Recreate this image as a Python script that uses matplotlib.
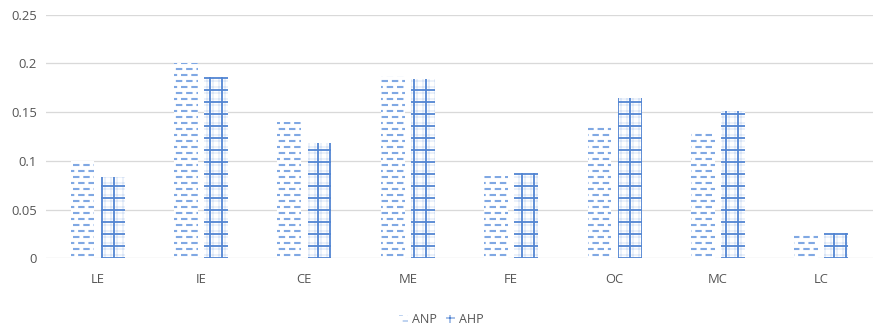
import warnings
import numpy as np
import matplotlib
matplotlib.use("Agg")
import matplotlib.pyplot as plt
import matplotlib.hatch as mhatch
from matplotlib.path import Path
from matplotlib.patches import Patch

warnings.filterwarnings("ignore")

categories = ["LE", "IE", "CE", "ME", "FE", "OC", "MC", "LC"]
anp = [0.100, 0.200, 0.140, 0.187, 0.084, 0.136, 0.130, 0.026]
ahp = [0.083, 0.186, 0.118, 0.184, 0.088, 0.164, 0.151, 0.026]
series_names = ["ANP", "AHP"]
yticks = [0, 0.05, 0.1, 0.15, 0.2, 0.25]
ytick_labels = ["0", "0.05", "0.1", "0.15", "0.2", "0.25"]


class DashRowsHatch(mhatch.HatchPatternBase):
    """Staggered rows of short dashes, selected with the '_' hatch code."""

    rows = 12
    dashes = 7
    dash_frac = 0.42

    def __init__(self, hatch, density):
        self.on = hatch.count("_") > 0
        self.segs = self._segments() if self.on else []
        self.num_vertices = 2 * len(self.segs)

    def _segments(self):
        segs = []
        period = 1.0 / self.dashes
        for r in range(self.rows):
            y = (r + 0.5) / self.rows
            shift = 0.5 * period if r % 2 else 0.0
            for j in range(self.dashes):
                x0 = j * period + shift + 0.2 * period
                x1 = x0 + self.dash_frac * period
                if x1 <= 1.0:
                    segs.append((x0, x1, y))
                elif x0 >= 1.0:
                    segs.append((x0 - 1.0, x1 - 1.0, y))
                else:
                    segs.append((x0, 1.0, y))
                    segs.append((0.0, x1 - 1.0, y))
        return segs

    def set_vertices_and_codes(self, vertices, codes):
        for i, (x0, x1, y) in enumerate(self.segs):
            vertices[2 * i] = (x0, y)
            vertices[2 * i + 1] = (x1, y)
            codes[2 * i] = Path.MOVETO
            codes[2 * i + 1] = Path.LINETO


mhatch._hatch_types.append(DashRowsHatch)

DPI = 72
plt.rcParams["font.family"] = ["Open Sans", "DejaVu Sans"]

fig = plt.figure(figsize=(874 / DPI, 329 / DPI), dpi=DPI)
ax = fig.add_axes([0.0526, 0.2149, 0.9462, 0.7405])

x = np.arange(len(categories))
width = 0.23
offset = 0.146

anp_color = "#80a8e3"
ahp_color = "#5285d2"
ahp_light = "#d3e0f4"

with plt.rc_context({"hatch.linewidth": 2.1}):
    ax.bar(x - offset, anp, width, facecolor="white", edgecolor=anp_color,
           linewidth=0, hatch="_", zorder=2)
    anp_handle = Patch(facecolor="white", edgecolor=anp_color, linewidth=0,
                       hatch="_")

# AHP: faint fine grid underneath, bold coarse grid on top
with plt.rc_context({"hatch.linewidth": 0.9}):
    ax.bar(x + offset, ahp, width, facecolor="white", edgecolor=ahp_light,
           linewidth=0, hatch="++", zorder=2)
with plt.rc_context({"hatch.linewidth": 1.8}):
    ax.bar(x + offset, ahp, width, facecolor="none", edgecolor=ahp_color,
           linewidth=0, hatch="+", zorder=3)
    ahp_handle = Patch(facecolor="white", edgecolor=ahp_color, linewidth=0,
                       hatch="+")

ax.set_xlim(-0.5, len(categories) - 0.5)
ax.set_ylim(0, 0.25)
ax.set_yticks(yticks)
ax.set_yticklabels(ytick_labels)
ax.set_xticks(x)
ax.set_xticklabels(categories)

ax.grid(axis="y", color="#d9d9d9", linewidth=1.3, zorder=0)
ax.set_axisbelow(True)
for s in ax.spines.values():
    s.set_visible(False)
ax.tick_params(axis="both", length=0, labelsize=13, labelcolor="#555555")
ax.tick_params(axis="y", pad=9)
ax.tick_params(axis="x", pad=15)

fig.legend([anp_handle, ahp_handle], series_names, loc="center",
           bbox_to_anchor=(0.505, 0.028), ncol=2, frameon=False, fontsize=12.5,
           labelcolor="#555555", handlelength=0.7, handleheight=0.7,
           handletextpad=0.3, columnspacing=0.8)

fig.savefig("out.png", dpi=DPI, facecolor="white")
